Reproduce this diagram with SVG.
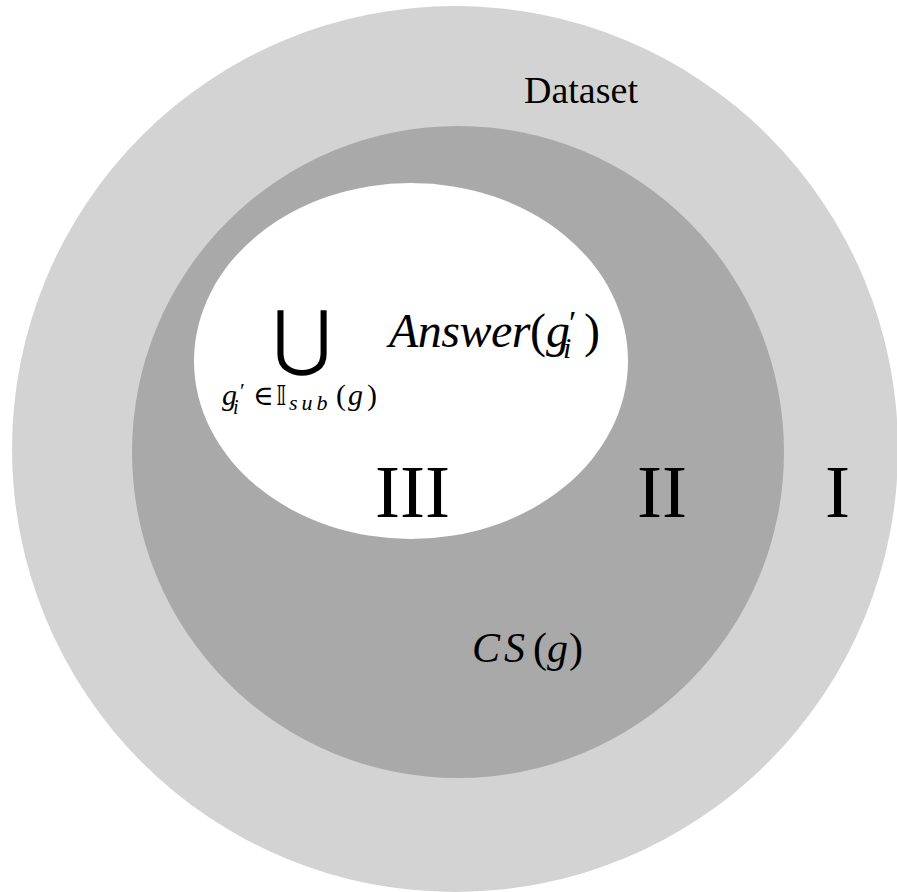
<svg xmlns="http://www.w3.org/2000/svg" width="897" height="892" viewBox="0 0 897 892">
<style>
.serif{font-family:"Liberation Serif","Times New Roman",serif;fill:#000}
.it{font-style:italic}
</style>
<rect width="897" height="892" fill="#ffffff"/>
<g id="dataset">
<circle cx="455" cy="449" r="443" fill="#d3d3d3"/>
<text class="serif" x="524" y="103" font-size="38">Dataset</text>
<text class="serif" x="825" y="517" font-size="75">I</text>
</g>
<g id="cs">
<circle cx="458" cy="452" r="326" fill="#a9a9a9"/>
<text class="serif" x="637" y="517" font-size="75">II</text>
<text class="serif" y="662" font-size="42"><tspan class="it" x="472" letter-spacing="4">CS</tspan><tspan x="533">(</tspan><tspan class="it" x="547">g</tspan><tspan x="569">)</tspan></text>
</g>
<g id="answer">
<ellipse cx="411" cy="361" rx="217" ry="178" fill="#ffffff"/>
<text class="serif" x="375" y="517" font-size="75">III</text>
<text x="302" y="362" font-size="72" text-anchor="middle" font-family="DejaVu Sans, sans-serif">⋃</text>
<text class="serif" y="405" font-size="30"><tspan class="it" x="222">g</tspan><tspan x="240" y="398" font-size="22">′</tspan><tspan class="it" x="233" y="414" font-size="20">i</tspan><tspan x="253" y="405" font-family="DejaVu Serif, serif" font-size="28">∈</tspan><tspan x="276" font-family="DejaVu Sans, sans-serif" font-size="27">𝕀</tspan><tspan class="it" x="289" y="410" font-size="22" letter-spacing="4">sub</tspan><tspan x="336" y="405">(</tspan><tspan class="it" x="348">g</tspan><tspan x="367">)</tspan></text>
<text class="serif" y="347" font-size="48"><tspan class="it" x="389" letter-spacing="-0.5">Answer</tspan><tspan x="530">(</tspan><tspan class="it" x="546">g</tspan><tspan x="569" y="334" font-size="34">′</tspan><tspan class="it" x="563" y="358" font-size="30">i</tspan><tspan x="584" y="347">)</tspan></text>
</g>
<g id="connectors"/>
</svg>
